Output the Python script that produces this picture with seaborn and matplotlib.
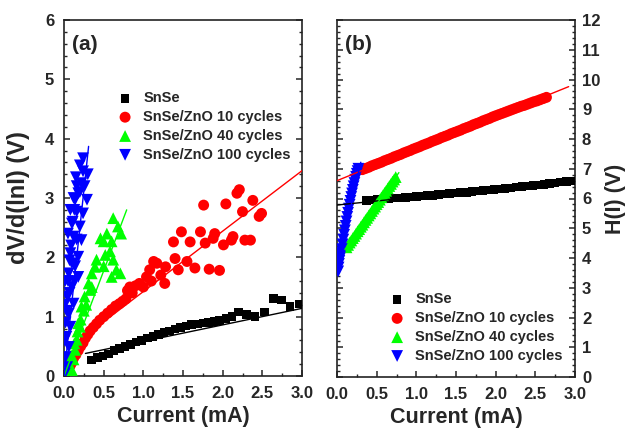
import matplotlib
matplotlib.use("Agg")
import matplotlib.pyplot as plt
import seaborn as sns
import pandas as pd
from matplotlib.ticker import MultipleLocator

# ---------------- data: panel (a) ----------------
a_snse_x = [0.35, 0.42, 0.49, 0.56, 0.63, 0.70, 0.77, 0.84, 0.91, 0.98, 1.05, 1.12, 1.19, 1.26,
            1.33, 1.40, 1.47, 1.54, 1.61, 1.68, 1.75, 1.82, 1.89, 1.96, 2.04, 2.12, 2.20, 2.30,
            2.41, 2.53, 2.64, 2.74, 2.85, 2.97]
a_snse_y = [0.27, 0.31, 0.34, 0.37, 0.43, 0.46, 0.50, 0.53, 0.57, 0.60, 0.64, 0.67, 0.70, 0.73,
            0.76, 0.79, 0.82, 0.84, 0.87, 0.88, 0.89, 0.90, 0.92, 0.94, 0.97, 1.00, 1.08, 1.04,
            1.00, 1.08, 1.31, 1.28, 1.17, 1.21]

a_z10_x = [0.02, 0.04, 0.06, 0.08, 0.10, 0.12, 0.15, 0.18, 0.21, 0.24, 0.27, 0.30, 0.33, 0.37,
           0.41, 0.45, 0.50, 0.55, 0.60, 0.65, 0.70, 0.74, 0.78, 0.80, 0.83, 0.86, 0.90, 0.95,
           1.00, 1.04, 1.08, 1.10, 1.13, 1.17, 1.22, 1.27, 1.28, 1.40, 1.38, 1.48, 1.44, 1.55,
           1.59, 1.65, 1.72, 1.76, 1.78, 1.83, 1.88, 1.90, 1.96, 2.01, 2.04, 2.11, 2.13, 2.18,
           2.21, 2.25, 2.28, 2.35, 2.38, 2.46, 2.49]
a_z10_y = [0.04, 0.08, 0.13, 0.18, 0.23, 0.30, 0.36, 0.43, 0.50, 0.56, 0.64, 0.70, 0.76, 0.82,
           0.88, 0.94, 1.00, 1.06, 1.12, 1.18, 1.22, 1.26, 1.30, 1.44, 1.50, 1.40, 1.52, 1.56,
           1.50, 1.67, 1.79, 1.60, 1.93, 1.90, 1.70, 1.56, 1.84, 1.98, 2.26, 2.43, 1.79, 1.93,
           2.26, 1.82, 2.43, 2.88, 2.24, 1.80, 2.32, 2.40, 1.78, 2.21, 2.90, 2.29, 2.35, 3.08,
           3.14, 2.77, 2.29, 2.29, 2.96, 2.69, 2.74]

a_z40_x = [0.08, 0.10, 0.12, 0.14, 0.16, 0.18, 0.20, 0.22, 0.25, 0.26, 0.31, 0.33, 0.35, 0.35,
           0.39, 0.41, 0.46, 0.50, 0.50, 0.52, 0.54, 0.58, 0.60, 0.60, 0.62, 0.62, 0.66, 0.68,
           0.71, 0.72, 0.04, 0.06, 0.09, 0.13, 0.17, 0.21, 0.28]
a_z40_y = [0.05, 0.10, 0.28, 0.44, 0.61, 0.89, 0.83, 1.17, 1.10, 1.34, 1.56, 1.45, 1.73, 1.50,
           1.84, 1.96, 2.32, 2.27, 1.85, 2.04, 2.40, 2.10, 2.27, 1.67, 2.66, 1.96, 1.79, 2.52,
           1.73, 2.40, 0.12, 0.22, 0.35, 0.55, 0.75, 0.95, 1.20]

a_z100_x = [0.01, 0.04, 0.02, 0.06, 0.03, 0.08, 0.06, 0.12, 0.04, 0.10, 0.18, 0.06, 0.14, 0.18,
            0.08, 0.22, 0.12, 0.20, 0.10, 0.24, 0.16, 0.14, 0.29, 0.18, 0.22, 0.30, 0.24, 0.24,
            0.02, 0.03, 0.05, 0.07, 0.09, 0.11, 0.13, 0.16, 0.20, 0.05, 0.08, 0.12, 0.15, 0.20,
            0.26, 0.10, 0.16, 0.07, 0.13, 0.01, 0.015, 0.01]
a_z100_y = [0.04, 0.15, 0.32, 0.49, 0.66, 0.83, 1.05, 1.22, 1.34, 1.50, 1.67, 1.73, 1.85, 2.01,
            2.07, 2.29, 2.35, 2.52, 2.57, 2.74, 2.77, 2.97, 2.97, 3.08, 3.25, 3.40, 3.45, 3.67,
            0.90, 1.10, 1.60, 1.95, 2.20, 2.60, 2.80, 3.20, 3.55, 2.40, 2.80, 3.00, 3.35, 3.10,
            3.20, 1.90, 2.30, 1.40, 1.60, 1.20, 1.60, 0.60]

# fit lines (a)
a_fit_snse_x = [0.27, 3.0]
a_fit_snse_y = [0.38, 1.14]
a_fit_z10_x = [0.30, 3.0]
a_fit_z10_y = [0.71, 3.46]
a_fit_z40_x = [0.0, 0.79]
a_fit_z40_y = [0.0, 2.80]
a_fit_z100_x = [0.0, 0.31]
a_fit_z100_y = [0.0, 3.87]

# ---------------- data: panel (b) ----------------
b_snse_x = [0.37, 0.44, 0.51, 0.58, 0.65, 0.72, 0.79, 0.86, 0.93, 1.00, 1.07, 1.14, 1.21, 1.28,
            1.35, 1.42, 1.49, 1.56, 1.63, 1.70, 1.77, 1.84, 1.91, 1.98, 2.05, 2.12, 2.19, 2.26,
            2.33, 2.40, 2.47, 2.54, 2.61, 2.68, 2.75, 2.82, 2.89, 2.96]
b_snse_y = [5.93, 5.95, 5.96, 5.98, 5.99, 6.01, 6.02, 6.04, 6.05, 6.07, 6.08, 6.10, 6.11, 6.13,
            6.15, 6.16, 6.18, 6.20, 6.21, 6.23, 6.25, 6.27, 6.29, 6.30, 6.32, 6.34, 6.36, 6.38,
            6.40, 6.42, 6.44, 6.46, 6.48, 6.50, 6.52, 6.55, 6.57, 6.59]

b_z10_x = [0.32, 0.36, 0.40, 0.44, 0.48, 0.52, 0.56, 0.60, 0.64, 0.68, 0.72, 0.76, 0.80, 0.84,
           0.88, 0.92, 0.96, 1.00, 1.04, 1.08, 1.12, 1.16, 1.20, 1.24, 1.28, 1.32, 1.36, 1.40,
           1.44, 1.48, 1.52, 1.56, 1.60, 1.64, 1.68, 1.72, 1.76, 1.80, 1.84, 1.88, 1.92, 1.96,
           2.00, 2.04, 2.08, 2.12, 2.16, 2.20, 2.24, 2.28, 2.32, 2.36, 2.40, 2.44, 2.48, 2.52,
           2.56, 2.60, 2.64]
b_z10_y = [6.97, 7.01, 7.05, 7.10, 7.14, 7.18, 7.22, 7.27, 7.31, 7.35, 7.40, 7.44, 7.48, 7.53,
           7.57, 7.61, 7.66, 7.70, 7.74, 7.79, 7.83, 7.87, 7.92, 7.96, 8.00, 8.05, 8.09, 8.13,
           8.18, 8.22, 8.26, 8.30, 8.35, 8.39, 8.43, 8.48, 8.52, 8.56, 8.61, 8.65, 8.69, 8.74,
           8.78, 8.82, 8.86, 8.90, 8.94, 8.98, 9.02, 9.06, 9.10, 9.13, 9.17, 9.21, 9.25, 9.28,
           9.32, 9.36, 9.40]

b_z40_x = [0.12, 0.14, 0.16, 0.18, 0.20, 0.22, 0.24, 0.26, 0.28, 0.30, 0.32, 0.34, 0.36, 0.38,
           0.40, 0.42, 0.44, 0.46, 0.48, 0.50, 0.52, 0.54, 0.56, 0.58, 0.60, 0.62, 0.64, 0.66,
           0.68, 0.70, 0.72, 0.74]
b_z40_y = [4.36, 4.44, 4.52, 4.59, 4.67, 4.74, 4.82, 4.90, 4.97, 5.05, 5.12, 5.20, 5.28, 5.35,
           5.43, 5.50, 5.58, 5.66, 5.73, 5.81, 5.88, 5.96, 6.04, 6.11, 6.19, 6.26, 6.34, 6.42,
           6.49, 6.57, 6.64, 6.72]

b_z100_x = [0.015, 0.02, 0.025, 0.03, 0.035, 0.04, 0.05, 0.06, 0.07, 0.08, 0.09, 0.10, 0.11,
            0.12, 0.13, 0.14, 0.15, 0.16, 0.17, 0.18, 0.19, 0.20, 0.21, 0.22, 0.23, 0.24, 0.25,
            0.26, 0.27]
b_z100_y = [3.55, 3.68, 3.80, 3.90, 3.98, 4.05, 4.18, 4.30, 4.46, 4.62, 4.78, 4.93, 5.08, 5.23,
            5.38, 5.52, 5.66, 5.79, 5.92, 6.05, 6.17, 6.29, 6.41, 6.52, 6.63, 6.73, 6.83, 6.92,
            7.00]

b_fit_snse_x = [0.0, 3.0]
b_fit_snse_y = [5.78, 6.60]
b_fit_z10_x = [0.0, 2.92]
b_fit_z10_y = [6.60, 9.76]
b_fit_z40_x = [0.10, 0.78]
b_fit_z40_y = [4.29, 6.87]
b_fit_z100_x = [0.10, 0.30]
b_fit_z100_y = [4.85, 7.22]

labels = ["SnSe", "SnSe/ZnO 10 cycles", "SnSe/ZnO 40 cycles", "SnSe/ZnO 100 cycles"]
colors = ["#000000", "#FF0000", "#00FF00", "#0000FF"]
markers = ["s", "o", "^", "v"]
sizes = [38, 62, 72, 72]

x_ticks = [0.0, 0.5, 1.0, 1.5, 2.0, 2.5, 3.0]

# ---------------- style ----------------
sns.set_theme(style="ticks")
plt.rcParams["font.family"] = ["Liberation Sans", "DejaVu Sans"]
plt.rcParams["font.weight"] = "bold"
plt.rcParams["axes.labelweight"] = "bold"
plt.rcParams["axes.linewidth"] = 1.2

fig = plt.figure(figsize=(6.28, 4.30), dpi=100)
axA = fig.add_axes([64 / 628, 1 - 376 / 430, 238 / 628, 356 / 430])
axB = fig.add_axes([337 / 628, 1 - 377 / 430, 238 / 628, 357 / 430])


def scatter_series(ax, xs, ys, i):
    df = pd.DataFrame({"x": xs, "y": ys})
    sns.scatterplot(data=df, x="x", y="y", ax=ax, color=colors[i], marker=markers[i],
                    s=sizes[i], linewidth=0, edgecolor="none", label=labels[i], zorder=3)


def fit_line(ax, xs, ys, i):
    df = pd.DataFrame({"x": xs, "y": ys})
    sns.lineplot(data=df, x="x", y="y", ax=ax, color=colors[i], linewidth=1.0,
                 legend=False, zorder=4)


a_sets = [(a_snse_x, a_snse_y), (a_z10_x, a_z10_y), (a_z40_x, a_z40_y), (a_z100_x, a_z100_y)]
a_fits = [(a_fit_snse_x, a_fit_snse_y), (a_fit_z10_x, a_fit_z10_y),
          (a_fit_z40_x, a_fit_z40_y), (a_fit_z100_x, a_fit_z100_y)]
b_sets = [(b_snse_x, b_snse_y), (b_z10_x, b_z10_y), (b_z40_x, b_z40_y), (b_z100_x, b_z100_y)]
b_fits = [(b_fit_snse_x, b_fit_snse_y), (b_fit_z10_x, b_fit_z10_y),
          (b_fit_z40_x, b_fit_z40_y), (b_fit_z100_x, b_fit_z100_y)]

for i in range(4):
    scatter_series(axA, *a_sets[i], i)
    fit_line(axA, *a_fits[i], i)
    scatter_series(axB, *b_sets[i], i)
    fit_line(axB, *b_fits[i], i)

for ax in (axA, axB):
    ax.set_xlim(0, 3.0)
    ax.set_xticks(x_ticks)
    ax.set_xticklabels([f"{t:.1f}" for t in x_ticks])
    ax.xaxis.set_minor_locator(MultipleLocator(0.25))
    ax.tick_params(which="major", direction="in", length=4.5, width=1.1, labelsize=12,
                   pad=7, left=True, right=True, top=False, bottom=True)
    ax.tick_params(which="minor", direction="in", length=2.5, width=1.0,
                   left=True, right=True, top=False, bottom=True)
    ax.set_xlabel("Current (mA)", fontsize=15.5, fontweight="bold")
    ax.xaxis.set_label_coords(0.5, -0.085)
    for sp in ax.spines.values():
        sp.set_visible(True)
        sp.set_linewidth(1.2)
        sp.set_color("#222222")

# panel (a)
axA.set_ylim(0, 6)
axA.yaxis.set_major_locator(MultipleLocator(1))
axA.yaxis.set_minor_locator(MultipleLocator(0.2))
axA.tick_params(axis="y", which="major", pad=7)
axA.set_ylabel("dV/d(lnI) (V)", fontsize=17, fontweight="bold")
axA.yaxis.set_label_coords(-0.143, 0.5)
axA.text(0.034, 0.93, "(a)", transform=axA.transAxes, fontsize=15, fontweight="bold",
         va="center", ha="left")

# panel (b)
axB.set_ylim(0, 12)
axB.yaxis.set_major_locator(MultipleLocator(1))
axB.yaxis.set_minor_locator(MultipleLocator(0.2))
axB.yaxis.tick_right()
axB.tick_params(axis="y", which="both", left=True, right=True, labelleft=False,
                labelright=True)
axB.tick_params(axis="y", which="major", pad=5)
axB.yaxis.set_label_position("right")
axB.set_ylabel("H(I) (V)", fontsize=15.5, fontweight="bold", rotation=90)
axB.yaxis.set_label_coords(1.126, 0.5)
axB.text(0.034, 0.93, "(b)", transform=axB.transAxes, fontsize=15, fontweight="bold",
         va="center", ha="left")

for ax, anchor in ((axA, (0.226, 0.80)), (axB, (0.222, 0.237))):
    for lbl in ax.get_xticklabels() + ax.get_yticklabels():
        lbl.set_fontweight("bold")
    leg = ax.legend(loc="upper left", bbox_to_anchor=anchor, frameon=False,
                    fontsize=10.5, handlelength=1.0, handletextpad=0.75, labelspacing=0.33,
                    borderpad=0, borderaxespad=0, markerscale=1.0)
    for t in leg.get_texts():
        t.set_fontweight("bold")

fig.savefig("out.png", dpi=100)
